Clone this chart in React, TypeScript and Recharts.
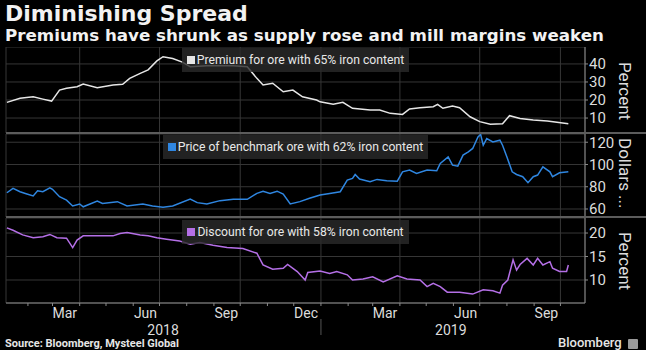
import { LineChart, Line, XAxis, YAxis, CartesianGrid, Legend } from "recharts";

// ---------------------------------------------------------------------------
// Data (x = days since 2018-01-01)
// ---------------------------------------------------------------------------

const PREMIUM_DAYS = [
  7, 22, 37, 48, 58, 67, 75, 87, 94, 110, 128, 139, 147, 159, 168, 178, 185,
  196, 207, 216, 235, 265, 281, 292, 299, 310, 322, 333, 344, 360, 364, 379,
  390, 401, 421, 432, 444, 458, 466, 478, 493, 498, 504, 515, 523, 535, 546,
  558, 572, 580, 592, 607, 623, 634, 647,
];
const PREMIUM_VALUES = [
  18.7, 21, 21.8, 20.5, 19.4, 25.5, 26.5, 27.4, 28.9, 26.8, 28.3, 28.7, 32,
  34.8, 36.7, 41.7, 44, 43, 41, 38.5, 39, 39, 38.5, 32, 28.3, 29.3, 24.6, 25.5,
  21.8, 20, 19, 17.6, 18.7, 15.4, 14.4, 14.4, 12.6, 12, 15, 15.7, 16.3, 17.6,
  15.4, 16.7, 15.7, 10.7, 8, 6.5, 6.8, 11.3, 9.8, 8.9, 8.3, 7.6, 6.8,
];

const PRICE_DAYS = [
  7, 14, 22, 28, 37, 42, 48, 56, 59, 67, 75, 82, 90, 94, 110, 116, 133, 144,
  162, 173, 185, 196, 216, 224, 235, 250, 265, 281, 292, 299, 307, 315, 322,
  330, 341, 352, 364, 375, 387, 395, 401, 404, 409, 421, 429, 440, 452, 458,
  466, 474, 486, 497, 501, 510, 515, 521, 527, 533, 538, 544, 547, 550, 554,
  561, 569, 572, 577, 583, 588, 595, 601, 607, 612, 618, 626, 629, 637, 647,
];
const PRICE_VALUES = [
  74.6, 78.5, 75.5, 74, 71.7, 76.4, 75.5, 79, 77.7, 71, 68, 62.7, 64.5, 62,
  67.2, 65, 66.6, 62.7, 64.5, 62.7, 61.5, 62.7, 69, 65.7, 64.5, 67.5, 68.7,
  68.7, 74, 76, 74, 76, 73.4, 64.5, 66.6, 69.6, 72.6, 74, 75.5, 86, 87.5, 91,
  86.9, 84.5, 86.6, 85.4, 85, 93.4, 95, 92, 95, 94.3, 101, 106.8, 99.4, 98.5,
  108.4, 111.3, 114.4, 124.8, 127, 117.3, 123.3, 120.3, 121.8, 117.3, 106.8,
  93.4, 91, 89, 83.6, 89, 90.5, 97.9, 93.4, 89, 92.5, 93.4,
];

const DISCOUNT_DAYS = [
  7, 14, 25, 37, 48, 56, 64, 75, 82, 87, 94, 110, 128, 136, 144, 159, 168, 178,
  189, 204, 216, 227, 242, 258, 276, 292, 299, 310, 322, 327, 338, 347, 350,
  364, 375, 383, 395, 401, 413, 424, 436, 452, 463, 478, 486, 493, 501, 509,
  523, 538, 550, 561, 569, 572, 578, 584, 588, 592, 600, 607, 612, 618, 626,
  629, 637, 645, 647,
];
const DISCOUNT_VALUES = [
  21.1, 20.6, 19.6, 19, 19.2, 19.7, 19, 18.9, 16.9, 18.5, 19.4, 19.4, 19.4,
  19.9, 20.1, 19.6, 19.4, 19, 18.7, 18.3, 17.6, 18, 17.4, 16.9, 16.7, 15.7,
  13.2, 12.3, 12.5, 13.3, 11.8, 10, 11.6, 11.9, 11.4, 11.8, 11.1, 10, 10.2,
  10.7, 9.6, 10.9, 10.2, 10, 8.6, 9.3, 8.6, 7.4, 7.4, 7, 7.9, 7.7, 7.2, 8.9, 10,
  14.3, 12.1, 13.3, 14.6, 13.2, 14.6, 13.2, 13.9, 12.5, 11.8, 11.8, 13.2,
];

const X_DOMAIN = [6, 666];
const QUARTER_DAYS = [90, 181, 273, 365, 455, 546, 638];
const MONTH_START_DAYS = [
  31, 59, 90, 120, 151, 181, 212, 243, 273, 304, 334, 365, 396, 424, 455, 485,
  516, 546, 577, 608, 638,
];
const MONTH_LABEL_DAYS = [73, 165, 257, 348, 438, 530, 622];
const MONTH_LABELS = ["Mar", "Jun", "Sep", "Dec", "Mar", "Jun", "Sep"];
const YEAR_LABEL_DAYS = [185, 513];
const YEAR_LABELS = ["2018", "2019"];
const YEAR_BREAK_DAY = 365;

const PREMIUM_TICKS = [10, 20, 30, 40];
const PRICE_TICKS = [60, 80, 100, 120];
const DISCOUNT_TICKS = [10, 15, 20];

// ---------------------------------------------------------------------------
// Style
// ---------------------------------------------------------------------------

const FONT = "Roboto, 'Noto Sans', sans-serif";
const TITLE_FONT = "'DejaVu Sans', sans-serif";
const GRID = "#363636";
const AXIS = "#8a8a8a";
const TEXT = "#dcdcdc";
const PREMIUM_COLOR = "#e6e6e6";
const PRICE_COLOR = "#2f86e0";
const DISCOUNT_COLOR = "#b46fe6";

const toRows = (days: number[], values: number[]) =>
  days.map((day, i) => ({ day, value: values[i] }));

function TimeTick(props: any) {
  const { x, y, payload } = props;
  const v = payload.value;
  const mi = MONTH_LABEL_DAYS.indexOf(v);
  if (mi >= 0) {
    return (
      <text x={x} y={y + 15} textAnchor="middle" fill={TEXT} fontSize={14} fontFamily={FONT}>
        {MONTH_LABELS[mi]}
      </text>
    );
  }
  const yi = YEAR_LABEL_DAYS.indexOf(v);
  if (yi >= 0) {
    return (
      <text x={x} y={y + 32} textAnchor="middle" fill={TEXT} fontSize={14} fontFamily={FONT}>
        {YEAR_LABELS[yi]}
      </text>
    );
  }
  return (
    <g>
      <line x1={x} x2={x} y1={y} y2={y + 3} stroke={AXIS} />
      {v === YEAR_BREAK_DAY && (
        <line x1={x} x2={x} y1={y + 16} y2={y + 32} stroke="#555" />
      )}
    </g>
  );
}

function LegendBox({ color, label }: { color: string; label: string }) {
  return (
    <div style={{ display: "flex", justifyContent: "center" }}>
      <div
        style={{
          background: "rgba(42,42,42,0.8)",
          padding: "4px 5px",
          display: "flex",
          alignItems: "center",
          fontFamily: FONT,
          fontSize: 12.2,
          color: "#e8e8e8",
          lineHeight: "16px",
          whiteSpace: "nowrap",
        }}
      >
        <span style={{ width: 8, height: 8, background: color, marginRight: 2, display: "inline-block" }} />
        {label}
      </div>
    </div>
  );
}

interface PanelProps {
  rows: { day: number; value: number }[];
  color: string;
  label: string;
  domain: number[];
  ticks: number[];
  top: number;
  height: number;
  legendTop: number;
  showTime?: boolean;
}

function Panel({ rows, color, label, domain, ticks, top, height, legendTop, showTime }: PanelProps) {
  return (
    <div style={{ position: "absolute", left: 0, top }}>
      <LineChart width={646} height={height} data={rows} margin={{ top: 0, right: 0, bottom: 0, left: 6 }}>
        <CartesianGrid stroke={GRID} xAxisId="grid" />
        {showTime && (
          <XAxis
            xAxisId="time"
            dataKey="day"
            type="number"
            domain={X_DOMAIN}
            ticks={[...MONTH_START_DAYS, ...MONTH_LABEL_DAYS, ...YEAR_LABEL_DAYS]}
            interval={0}
            height={47}
            tickSize={0}
            tickMargin={0}
            tickLine={false}
            axisLine={{ stroke: AXIS }}
            tick={TimeTick}
          />
        )}
        <XAxis
          xAxisId="grid"
          dataKey="day"
          type="number"
          domain={X_DOMAIN}
          ticks={QUARTER_DAYS}
          height={0}
          hide
        />
        <YAxis
          orientation="right"
          width={61}
          domain={domain}
          ticks={ticks}
          interval={0}
          allowDataOverflow
          tickSize={3}
          tickMargin={1}
          axisLine={{ stroke: AXIS }}
          tickLine={{ stroke: AXIS }}
          tick={{ fill: TEXT, fontSize: 15, fontFamily: FONT }}
        />
        <Legend
          verticalAlign="middle"
          align="center"
          layout="horizontal"
          wrapperStyle={{ top: legendTop, left: 6, width: 579 }}
          content={() => <LegendBox color={color} label={label} />}
        />
        <Line
          xAxisId="grid"
          type="linear"
          dataKey="value"
          stroke={color}
          strokeWidth={1.5}
          dot={false}
          isAnimationActive={false}
        />
      </LineChart>
    </div>
  );
}

const unitStyle = (top: number) => ({
  position: "absolute" as const,
  left: 615,
  top,
  writingMode: "vertical-rl" as const,
  fontFamily: FONT,
  fontSize: 17,
  color: TEXT,
  lineHeight: "20px",
});

export default function App() {
  return (
    <div
      style={{
        position: "absolute",
        left: 0,
        top: 0,
        width: 646,
        height: 350,
        background: "#000",
        overflow: "hidden",
      }}
    >
      <div style={{ position: "absolute", left: 5, top: 1, fontFamily: TITLE_FONT, fontWeight: 700, fontSize: 22, color: "#f2f2f2" }}>
        Diminishing Spread
      </div>
      <div style={{ position: "absolute", left: 5, top: 25, fontFamily: TITLE_FONT, fontWeight: 700, fontSize: 16.7, color: "#f2f2f2" }}>
        Premiums have shrunk as supply rose and mill margins weaken
      </div>

      <Panel
        rows={toRows(PREMIUM_DAYS, PREMIUM_VALUES)}
        color={PREMIUM_COLOR}
        label="Premium for ore with 65% iron content"
        domain={[1.7, 49.4]}
        ticks={PREMIUM_TICKS}
        top={47}
        height={86}
        legendTop={1}
      />
      <Panel
        rows={toRows(PRICE_DAYS, PRICE_VALUES)}
        color={PRICE_COLOR}
        label="Price of benchmark ore with 62% iron content"
        domain={[52.8, 127.4]}
        ticks={PRICE_TICKS}
        top={134}
        height={83}
        legendTop={1}
      />
      <Panel
        rows={toRows(DISCOUNT_DAYS, DISCOUNT_VALUES)}
        color={DISCOUNT_COLOR}
        label="Discount for ore with 58% iron content"
        domain={[5.1, 23.2]}
        ticks={DISCOUNT_TICKS}
        top={218}
        height={132}
        legendTop={2}
        showTime
      />

      <div style={{ position: "absolute", left: 6, top: 132, width: 640, height: 2, background: "#5c5c5c" }} />
      <div style={{ position: "absolute", left: 6, top: 216, width: 640, height: 2, background: "#5c5c5c" }} />

      <div style={unitStyle(62)}>Percent</div>
      <div style={unitStyle(138)}>Dollars ...</div>
      <div style={unitStyle(232)}>Percent</div>

      <div style={{ position: "absolute", left: 5, top: 337, fontFamily: FONT, fontWeight: 700, fontSize: 11, color: "#e6e6e6" }}>
        Source: Bloomberg, Mysteel Global
      </div>
      <div style={{ position: "absolute", left: 558, top: 335, fontFamily: FONT, fontWeight: 500, fontSize: 13, color: "#e6e6e6" }}>
        Bloomberg
      </div>
      <div style={{ position: "absolute", left: 628, top: 339, width: 10, height: 10, background: "#9a9a9a", borderRadius: 1 }} />
    </div>
  );
}
